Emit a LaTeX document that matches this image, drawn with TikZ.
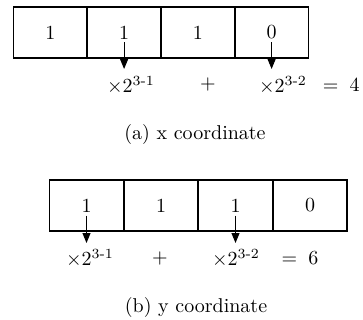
\documentclass[tikz,border=0pt]{standalone}
\usepackage{amsmath,amssymb}
\usepackage{tikz}
\usetikzlibrary{arrows.meta}

\begin{document}
\begin{tikzpicture}[
    x=0.5pt,y=-0.5pt,
    every node/.style={font=\normalsize},
    bitcell/.style  ={rectangle,draw,line width=0.7pt,
                     minimum width=37pt,minimum height=25.5pt,
                     inner sep=0pt},
    bitarrow/.style ={-{Triangle[length=5pt,width=4pt]},line width=0.5pt},
    term/.style     ={inner sep=1pt},
  ]
  \useasboundingbox (0,0) rectangle (363,320);

  % --- (a) x coordinate ---
  \node[bitcell] (x1) at ( 50.3,32.5) {1};
  \node[bitcell] (x2) at (124.1,32.5) {1};
  \node[bitcell] (x3) at (197.9,32.5) {1};
  \node[bitcell] (x4) at (271.6,32.5) {0};
  \coordinate (ax2) at (124.1,69);
  \coordinate (ax4) at (271.6,69);
  \draw[bitarrow] ([yshift=-5pt]x2.center) -- (ax2);
  \draw[bitarrow] ([yshift=-5pt]x4.center) -- (ax4);

  \node[term] (tx1) at (131,85) {$\times 2^{3\text{-}1}$};
  \node[term] (tx2) at (208,85) {$+$};
  \node[term] (tx3) at (283,85) {$\times 2^{3\text{-}2}$};
  \node[term,anchor=east] (tx4) at (362,85) {$=\;4$};

  \node (capa) at (195,135) {(a)\ x\ coordinate};

  % --- (b) y coordinate ---
  \node[bitcell] (y1) at ( 86.5,205.5) {1};
  \node[bitcell] (y2) at (161.0,205.5) {1};
  \node[bitcell] (y3) at (235.5,205.5) {1};
  \node[bitcell] (y4) at (310.0,205.5) {0};
  \coordinate (ay1) at ( 86.5,243);
  \coordinate (ay3) at (235.5,243);
  \draw[bitarrow] ([yshift=-5pt]y1.center) -- (ay1);
  \draw[bitarrow] ([yshift=-5pt]y3.center) -- (ay3);

  \node[term] (ty1) at ( 90,258) {$\times 2^{3\text{-}1}$};
  \node[term] (ty2) at (160,258) {$+$};
  \node[term] (ty3) at (236,258) {$\times 2^{3\text{-}2}$};
  \node[term] (ty4) at (300,258) {$=\;6$};

  \node (capb) at (196,307) {(b)\ y\ coordinate};
\end{tikzpicture}
\end{document}
